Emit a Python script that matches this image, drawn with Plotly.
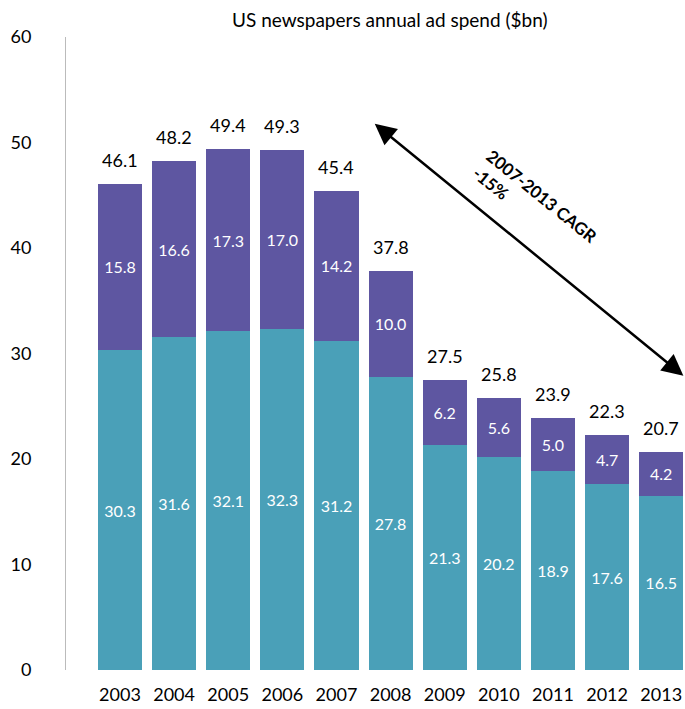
import plotly.graph_objects as go

years = ["2003", "2004", "2005", "2006", "2007", "2008", "2009", "2010", "2011", "2012", "2013"]
print_ads = [30.3, 31.6, 32.1, 32.3, 31.2, 27.8, 21.3, 20.2, 18.9, 17.6, 16.5]
other_ads = [15.8, 16.6, 17.3, 17.0, 14.2, 10.0, 6.2, 5.6, 5.0, 4.7, 4.2]
totals = [46.1, 48.2, 49.4, 49.3, 45.4, 37.8, 27.5, 25.8, 23.9, 22.3, 20.7]

TEAL = "#4AA0B8"
PURPLE = "#5E56A1"
FONT = "Lato"

xs = list(range(len(years)))

fig = go.Figure()
fig.add_trace(go.Bar(
    x=xs, y=print_ads, marker_color=TEAL, marker_line_width=0,
    text=[f"{v:.1f}" for v in print_ads], textposition="inside",
    insidetextanchor="middle", textfont=dict(color="white", size=16, family=FONT),
    textangle=0, showlegend=False, hoverinfo="skip",
))
fig.add_trace(go.Bar(
    x=xs, y=other_ads, marker_color=PURPLE, marker_line_width=0,
    text=[f"{v:.1f}" for v in other_ads], textposition="inside",
    insidetextanchor="middle", textfont=dict(color="white", size=16, family=FONT),
    textangle=0, showlegend=False, hoverinfo="skip",
))

# totals above each stack
for x, t in zip(xs, totals):
    fig.add_annotation(x=x, y=t, text=f"{t:.1f}", showarrow=False,
                       yshift=24, font=dict(size=18, color="black", family=FONT))

# CAGR double-headed arrow
fig.add_annotation(x=10.41, y=27.9, ax=4.68, ay=51.9, xref="x", yref="y",
                   axref="x", ayref="y", text="", showarrow=True,
                   arrowhead=2, startarrowhead=2, arrowside="end+start",
                   arrowsize=1.7, startarrowsize=1.7, arrowwidth=2.5,
                   arrowcolor="black")
fig.add_annotation(x=0.757, y=0.735, xref="paper", yref="paper",
                   xanchor="center", yanchor="middle",
                   text="<b>2007-2013 CAGR</b><br><b>-15%</b>", showarrow=False,
                   textangle=39, align="left",
                   font=dict(size=17, color="black", family=FONT))

fig.add_annotation(x=0.523, y=1.027, xref="paper", yref="paper",
                   xanchor="center", yanchor="middle",
                   text="US newspapers annual ad spend ($bn)", showarrow=False,
                   font=dict(size=19, color="black", family=FONT))

fig.update_layout(
    width=685, height=709, barmode="stack", bargap=0.185,
    margin=dict(l=66, r=0, t=37, b=39),
    paper_bgcolor="white", plot_bgcolor="white",
    font=dict(family=FONT, color="black"),
    xaxis=dict(tickmode="array", tickvals=xs, ticktext=years,
               range=[-0.997, 10.44], showgrid=False, zeroline=False,
               showline=False, ticks="", tickfont=dict(size=18),
               ticklabelstandoff=12),
    yaxis=dict(range=[0, 60], tickvals=[0, 10, 20, 30, 40, 50, 60],
               showgrid=False, zeroline=False, showline=True,
               linecolor="#BBBBBB", linewidth=1, ticks="",
               tickfont=dict(size=18), ticklabelstandoff=30),
)

fig.write_html("out.html")
